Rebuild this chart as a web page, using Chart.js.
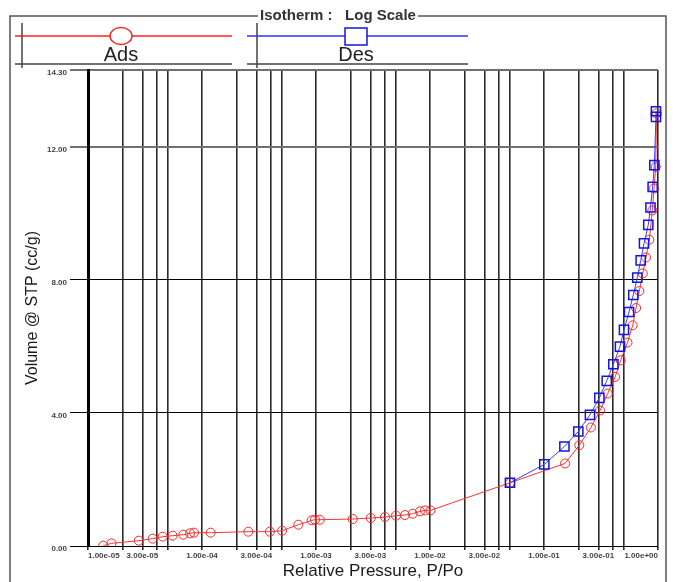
<!DOCTYPE html>
<html>
<head>
<meta charset="utf-8">
<title>Isotherm : Log Scale</title>
<script src="https://cdn.jsdelivr.net/npm/chart.js@4/dist/chart.umd.min.js"></script>
<style>
  html, body { margin: 0; padding: 0; background: #fff; }
  #wrap { width: 684px; height: 582px; position: relative; }
</style>
</head>
<body>
<div id="wrap"><canvas id="isotherm"></canvas></div>
<script>
// Isotherm data (relative pressure P/Po, volume cc/g)
const adsPressure = [1.36e-5, 1.61e-5, 2.79e-5, 3.69e-5, 4.52e-5, 5.53e-5, 6.86e-5, 7.85e-5, 8.51e-5, 1.19e-4,
  2.55e-4, 3.94e-4, 5.04e-4, 7.0e-4, 9.16e-4, 9.8e-4, 1.08e-3, 2.10e-3, 3.02e-3, 4.03e-3,
  5.03e-3, 6.04e-3, 7.05e-3, 8.17e-3, 9.04e-3, 1.01e-2, 0.0503, 0.153, 0.204, 0.258,
  0.310, 0.362, 0.421, 0.471, 0.540, 0.600, 0.642, 0.686, 0.735, 0.785,
  0.839, 0.892, 0.923, 0.955, 0.970];
const adsVolume = [0.01, 0.08, 0.16, 0.22, 0.28, 0.31, 0.34, 0.38, 0.40, 0.40,
  0.43, 0.43, 0.46, 0.64, 0.77, 0.79, 0.79, 0.81, 0.84, 0.87,
  0.91, 0.93, 0.97, 1.04, 1.07, 1.07, 1.90, 2.48, 3.03, 3.56,
  4.07, 4.58, 5.08, 5.58, 6.11, 6.63, 7.15, 7.66, 8.19, 8.67,
  9.20, 10.08, 10.74, 11.39, 13.00];

const desPressure = [0.0503, 0.1006, 0.151, 0.200, 0.253, 0.306, 0.355, 0.406, 0.464, 0.503,
  0.557, 0.607, 0.658, 0.705, 0.754, 0.822, 0.859, 0.898, 0.929, 0.960, 0.960];
const desVolume = [1.90, 2.45, 2.99, 3.44, 3.94, 4.45, 4.96, 5.46, 5.99, 6.49,
  7.03, 7.54, 8.06, 8.58, 9.09, 9.65, 10.17, 10.79, 11.44, 12.89, 13.06];

// Axis ticks
const xGridValues = [1e-5, 2e-5, 3e-5, 4e-5, 5e-5, 1e-4, 2e-4, 3e-4, 4e-4, 5e-4,
  1e-3, 2e-3, 3e-3, 4e-3, 5e-3, 1e-2, 2e-2, 3e-2, 4e-2, 5e-2,
  1e-1, 2e-1, 3e-1, 4e-1, 5e-1, 1];
const xLabelValues = [1e-5, 3e-5, 1e-4, 3e-4, 1e-3, 3e-3, 1e-2, 3e-2, 1e-1, 3e-1, 1];
const xTickLabels = ['1.00e-05', '3.00e-05', '1.00e-04', '3.00e-04', '1.00e-03', '3.00e-03',
  '1.00e-02', '3.00e-02', '1.00e-01', '3.00e-01', '1.00e+00'];
const yTickValues = [0, 4, 8, 12, 14.3];
const yTickLabels = ['0.00', '4.00', '8.00', '12.00', '14.30'];

const chartTitle = 'Isotherm :   Log Scale';
const FONT = '"Liberation Sans", Arial, sans-serif';

// Label for a log tick, blank for plain grid lines
function xLabel(value) {
  const i = xLabelValues.findIndex(v => Math.abs(Math.log10(v) - Math.log10(value)) < 1e-6);
  return i >= 0 ? xTickLabels[i] : '';
}

function yLabel(value) {
  const i = yTickValues.findIndex(v => Math.abs(v - value) < 1e-6);
  return i >= 0 ? yTickLabels[i] : '';
}

// Frame, boxed title and the two legend entries
const frameLegend = {
  id: 'frameLegend',
  afterDraw(chart) {
    const ctx = chart.ctx;
    ctx.save();

    // title in the top edge of the frame
    ctx.font = 'bold 15px ' + FONT;
    const tw = ctx.measureText(chartTitle).width;
    const tx = 338;
    ctx.strokeStyle = '#555';
    ctx.lineWidth = 1.5;
    ctx.beginPath();
    ctx.moveTo(10, 582);
    ctx.lineTo(10, 16);
    ctx.lineTo(tx - tw / 2 - 2, 16);
    ctx.moveTo(tx + tw / 2 + 2, 16);
    ctx.lineTo(666, 16);
    ctx.lineTo(666, 582);
    ctx.stroke();
    ctx.fillStyle = '#333';
    ctx.textAlign = 'center';
    ctx.textBaseline = 'middle';
    ctx.fillText(chartTitle, tx, 16);

    // legend slots: line start, line end, cross line, marker centre
    const slots = [
      { x0: 15, x1: 232, cross: 22, mx: 121 },
      { x0: 247, x1: 468, cross: 257, mx: 356 }
    ];
    chart.data.datasets.forEach((ds, i) => {
      const s = slots[i];
      ctx.strokeStyle = ds.legendColor;
      ctx.lineWidth = 2;
      ctx.beginPath();
      ctx.moveTo(s.x0, 36);
      ctx.lineTo(s.x1, 36);
      ctx.stroke();

      ctx.strokeStyle = ds.pointBorderColor;
      ctx.lineWidth = 1.5;
      ctx.beginPath();
      if (ds.pointStyle === 'rect') {
        ctx.rect(s.mx - 11, 28, 22, 17);
      } else {
        ctx.ellipse(s.mx, 36, 11, 8.5, 0, 0, Math.PI * 2);
      }
      ctx.fillStyle = '#fff';
      ctx.fill();
      ctx.stroke();

      ctx.strokeStyle = '#444';
      ctx.lineWidth = 1.5;
      ctx.beginPath();
      ctx.moveTo(s.cross, 23);
      ctx.lineTo(s.cross, 68);
      ctx.moveTo(s.x0, 64);
      ctx.lineTo(s.x1, 64);
      ctx.stroke();

      ctx.fillStyle = '#222';
      ctx.font = '20px ' + FONT;
      ctx.fillText(ds.label, s.mx, 55);
    });
    ctx.restore();
  }
};

const ctx = document.getElementById('isotherm').getContext('2d');
new Chart(ctx, {
  type: 'line',
  data: {
    datasets: [
      {
        label: 'Ads',
        data: adsPressure.map((p, i) => ({ x: p, y: adsVolume[i] })),
        borderColor: 'rgb(255, 50, 50)',
        legendColor: 'rgb(255, 90, 90)',
        borderWidth: 1,
        pointStyle: 'circle',
        pointRadius: 4.5,
        pointBorderColor: 'rgb(245, 40, 40)',
        pointBackgroundColor: 'rgba(0,0,0,0)',
        pointBorderWidth: 1,
        tension: 0,
        order: 2,
        clip: { left: 0, top: 0, right: 6, bottom: 0 }
      },
      {
        label: 'Des',
        data: desPressure.map((p, i) => ({ x: p, y: desVolume[i] })),
        borderColor: 'rgb(60, 60, 255)',
        legendColor: 'rgb(100, 100, 255)',
        borderWidth: 1,
        pointStyle: 'rect',
        pointRadius: 6.5,
        pointBorderColor: 'rgb(20, 20, 225)',
        pointBackgroundColor: 'rgba(0,0,0,0)',
        pointBorderWidth: 1.5,
        tension: 0,
        order: 1,
        clip: { left: 0, top: 0, right: 6, bottom: 0 }
      }
    ]
  },
  options: {
    responsive: true,
    maintainAspectRatio: false,
    animation: false,
    layout: { padding: { left: 0, right: 26, top: 70, bottom: 0 } },
    plugins: {
      legend: { display: false },
      tooltip: { enabled: false }
    },
    scales: {
      x: {
        type: 'logarithmic',
        min: 1e-5,
        max: 1,
        afterBuildTicks: scale => { scale.ticks = xGridValues.map(v => ({ value: v })); },
        afterFit: scale => { scale.height = 36; },
        ticks: {
          callback: value => xLabel(value),
          autoSkip: false,
          maxRotation: 0,
          minRotation: 0,
          align: 'inner',
          padding: 1,
          color: '#444',
          font: { family: FONT, size: 8, weight: 'bold' }
        },
        grid: {
          color: '#2a2a2a',
          lineWidth: 1.6,
          tickLength: 4
        },
        border: { color: '#000', width: 1 },
        title: {
          display: true,
          text: 'Relative Pressure, P/Po',
          color: '#1a1a1a',
          font: { family: FONT, size: 17 },
          padding: { top: 0, bottom: 0 }
        }
      },
      y: {
        min: 0,
        max: 14.3,
        afterBuildTicks: scale => { scale.ticks = yTickValues.map(v => ({ value: v })); },
        afterFit: scale => { scale.width = 88; },
        ticks: {
          callback: value => yLabel(value),
          autoSkip: false,
          padding: 3,
          labelOffset: 3,
          color: '#444',
          font: { family: FONT, size: 8, weight: 'bold' }
        },
        grid: {
          color: c => (c.tick && c.tick.value > 10 ? '#707070' : '#000'),
          lineWidth: c => (c.tick && c.tick.value > 10 ? 2 : 1),
          tickLength: 18
        },
        border: { color: '#000', width: 3 },
        title: {
          display: true,
          text: 'Volume @ STP (cc/g)',
          color: '#1a1a1a',
          font: { family: FONT, size: 16 },
          padding: { top: 23, bottom: 0 }
        }
      }
    }
  },
  plugins: [frameLegend]
});
</script>
</body>
</html>
